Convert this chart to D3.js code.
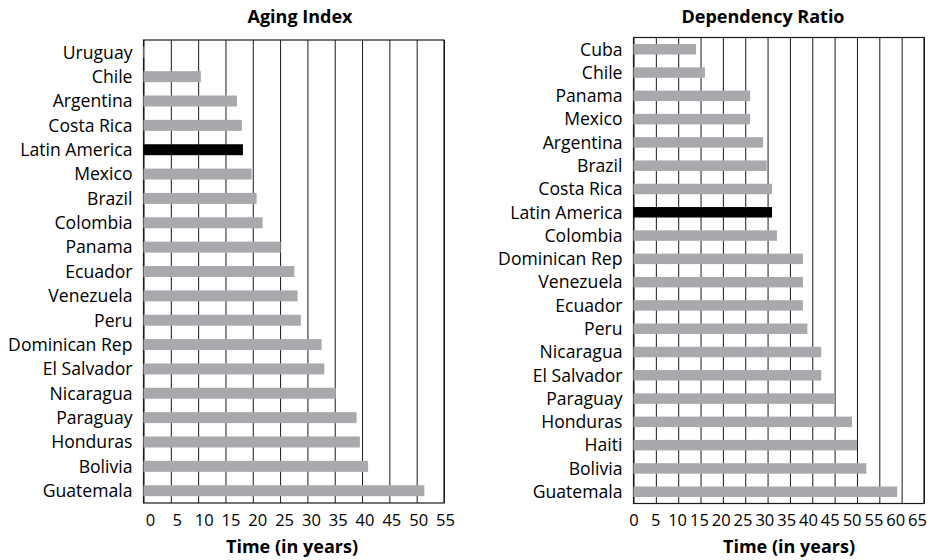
<!DOCTYPE html>
<html>
<head>
<meta charset="utf-8">
<script src="https://cdn.jsdelivr.net/npm/d3@7"></script>
<style>
  body { margin: 0; background: #fff; }
  svg text { font-family: "Open Sans", sans-serif; fill: #000; }
</style>
</head>
<body>
<svg id="chart" width="934" height="560"></svg>
<script>
// Aging Index data (top to bottom)
var agingCountries = ["Uruguay", "Chile", "Argentina", "Costa Rica", "Latin America", "Mexico", "Brazil",
  "Colombia", "Panama", "Ecuador", "Venezuela", "Peru", "Dominican Rep", "El Salvador", "Nicaragua",
  "Paraguay", "Honduras", "Bolivia", "Guatemala"];
var agingValues = [0.3, 10.5, 17.1, 18.0, 18.2, 19.8, 20.7, 21.8, 25.1, 27.6, 28.2, 28.8, 32.6, 33.1,
  35.2, 39.0, 39.6, 41.1, 51.4];
var agingTicks = [0, 5, 10, 15, 20, 25, 30, 35, 40, 45, 50, 55];

// Dependency Ratio data (top to bottom)
var depCountries = ["Cuba", "Chile", "Panama", "Mexico", "Argentina", "Brazil", "Costa Rica",
  "Latin America", "Colombia", "Dominican Rep", "Venezuela", "Ecuador", "Peru", "Nicaragua",
  "El Salvador", "Paraguay", "Honduras", "Haiti", "Bolivia", "Guatemala"];
var depValues = [14.0, 16.0, 26.1, 26.1, 29.0, 29.8, 31.0, 31.0, 32.1, 37.9, 37.9, 37.9, 38.9, 42.0,
  42.0, 45.1, 48.9, 50.0, 52.1, 59.0];
var depTicks = [0, 5, 10, 15, 20, 25, 30, 35, 40, 45, 50, 55, 60, 65];

var highlight = "Latin America";
var svg = d3.select("#chart");

//draws one panel: title, boxed grid, bars, labels
function drawPanel(opt)
{
  var g = svg.append("g");
  var x = d3.scaleLinear().domain([0, opt.max]).range([opt.x0, opt.x1]);
  var y = d3.scaleBand().domain(opt.names).range([opt.y0, opt.y1]).paddingInner(0.55).paddingOuter(0.28);

  // vertical grid lines
  g.append("g")
    .attr("transform", "translate(0," + opt.y1 + ")")
    .call(d3.axisBottom(x).tickValues(opt.ticks).tickSize(-(opt.y1 - opt.y0)).tickFormat(""))
    .call(function(s) {
      s.select(".domain").remove();
      s.selectAll(".tick line").attr("stroke", "#1a1a1a").attr("stroke-width", 1);
    });

  // box
  g.append("rect")
    .attr("x", opt.x0).attr("y", opt.y0)
    .attr("width", opt.x1 - opt.x0).attr("height", opt.y1 - opt.y0)
    .attr("fill", "none").attr("stroke", "#1a1a1a").attr("stroke-width", 1.2);

  // bars
  g.selectAll("rect.bar").data(opt.values).enter().append("rect")
    .attr("class", "bar")
    .attr("x", x(0))
    .attr("y", function(d, i) { return y(opt.names[i]); })
    .attr("width", function(d) { return x(d) - x(0); })
    .attr("height", y.bandwidth())
    .attr("fill", function(d, i) { return opt.names[i] == highlight ? "#000" : "#a7a9ac"; });

  // category labels
  g.selectAll("text.cat").data(opt.names).enter().append("text")
    .attr("class", "cat")
    .attr("x", opt.x0 - 11)
    .attr("y", function(d) { return y(d) + y.bandwidth() / 2; })
    .attr("dy", "0.36em")
    .attr("text-anchor", "end")
    .style("font-size", "17.6px")
    .text(function(d) { return d; });

  // tick labels (positions follow the label scale)
  var lx = d3.scaleLinear().domain([0, opt.max]).range(opt.labelRange);
  g.append("g")
    .attr("transform", "translate(0," + (opt.y1 + 3) + ")")
    .call(d3.axisBottom(lx).tickValues(opt.ticks).tickSize(0).tickPadding(8))
    .call(function(s) {
      s.select(".domain").remove();
      s.selectAll("text").style("font-size", "16.5px").style("font-family", "'Open Sans', sans-serif").attr("fill", "#000");
    });

  svg.append("text")
    .attr("x", opt.titleX).attr("y", 23)
    .attr("text-anchor", "middle")
    .style("font-size", "18px").style("font-weight", "bold")
    .text(opt.title);

  svg.append("text")
    .attr("x", opt.axisTitleX).attr("y", 553)
    .attr("text-anchor", "middle")
    .style("font-size", "18px").style("font-weight", "bold")
    .text("Time (in years)");
}

drawPanel({
  names: agingCountries, values: agingValues, ticks: agingTicks, max: 55,
  x0: 143.5, x1: 444, y0: 40, y1: 503,
  labelRange: [150, 445],
  title: "Aging Index", titleX: 300, axisTitleX: 292
});

drawPanel({
  names: depCountries, values: depValues, ticks: depTicks, max: 65,
  x0: 633.5, x1: 924, y0: 37.5, y1: 503.5,
  labelRange: [633.5, 917],
  title: "Dependency Ratio", titleX: 763, axisTitleX: 789
});
</script>
</body>
</html>
